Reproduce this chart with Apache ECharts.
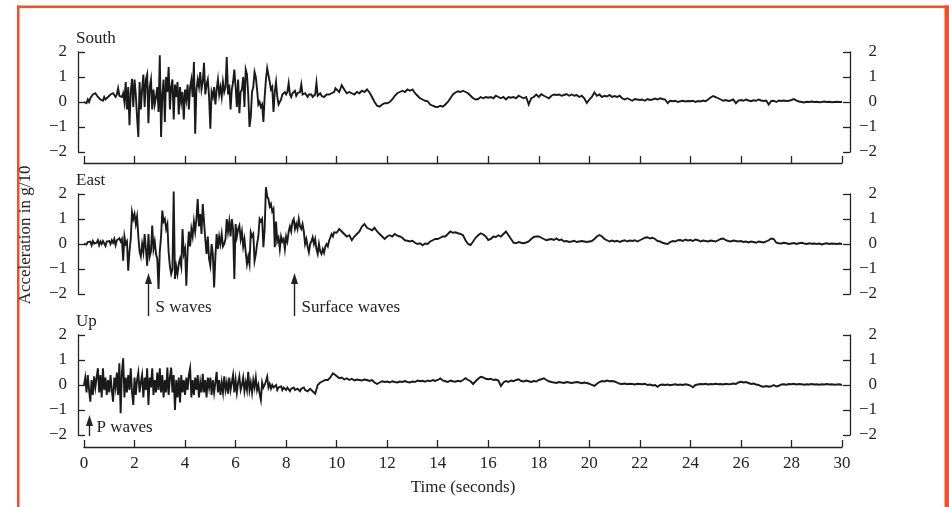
<!DOCTYPE html>
<html><head><meta charset="utf-8">
<script src="https://cdn.jsdelivr.net/npm/echarts@6/dist/echarts.min.js"></script>
<style>html,body{margin:0;padding:0;background:#fff}#c{width:949px;height:507px}</style>
</head><body><div id="c"></div>
<script>
// ---------- data ----------
const panelNames = ['South', 'East', 'Up'];
const yTickValues = [-2, -1, 0, 1, 2];
const xTickLabels = [0,2,4,6,8,10,12,14,16,18,20,22,24,26,28,30];
// sampling: 0–10 s every 0.05 s (200 samples), 10–30 s every 0.1 s (201 samples)
const earlyStep = 0.05, earlyCount = 200, lateStart = 10, lateStep = 0.1, lateCount = 201;

const southEarly = [
 0.0, 0.05, -0.05, 0.1, 0.0, 0.15, 0.1, 0.3, 0.25, 0.35,
 0.3, 0.2, 0.25, 0.1, 0.15, 0.05, 0.2, 0.1, 0.15, 0.2,
 0.25, 0.3, 0.25, 0.35, 0.3, 0.2, 0.3, 0.55, 0.25, 0.3,
 0.2, 0.35, 0.0, 0.8, -0.3, 0.6, -0.93, 0.4, 0.93, -0.2,
 0.9, 0.3, -0.6, -1.4, 0.8, -0.3, 0.5, 1.1, -0.2, 0.9,
 1.1, -0.85, 0.6, 0.9, -0.3, 0.5, -0.1, 0.2, 0.6, -0.4,
 1.87, -1.4, 0.3, 0.9, -0.8, 1.0, 0.4, 1.4, -0.3, 0.6,
 0.9, -0.7, 0.7, 0.2, 0.8, -0.5, 0.6, 0.0, 0.4, -0.7,
 0.5, 0.1, 0.7, -0.3, 0.6, 0.9, 0.2, 1.6, -1.27, 0.5,
 0.9, 0.6, 1.2, 0.5, 0.8, 1.57, 0.3, 0.7, 0.9, 0.2,
 -1.07, 0.4, 0.2, 0.6, -0.1, 0.5, 0.9, 0.3, 0.6, 0.2,
 0.8, 0.4, 0.6, 1.8, 0.3, 0.7, -0.3, 0.5, 0.8, 1.3,
 0.6, -0.2, 0.9, -0.45, 0.4, 0.5, 1.0, -0.2, 1.3, 1.1,
 0.3, -1.0, -0.6, 0.4, 0.6, 1.2, 1.0, 0.5, -0.1, 0.0,
 -0.2, -0.1, -0.8, 0.2, 0.9, 1.35, 1.3, 0.8, 0.5, 0.6,
 -0.4, 0.4, 0.8, 0.2, -0.1, -0.05, 0.1, 0.3, 0.25, 0.4,
 0.3, 0.4, 0.75, 0.3, 0.2, 0.35, 0.3, 0.45, 0.25, 0.35,
 0.3, 0.4, 0.7, 0.3, 0.25, 0.35, 0.3, 0.2, 0.3, 0.25,
 0.3, 0.2, 0.25, 0.3, 0.77, 0.25, 0.3, 0.35, 0.25, 0.3,
 0.2, 0.25, 0.3, 0.25, 0.3, 0.25, 0.35, 0.3, 0.4, 0.55
];
const southLate = [
 0.5, 0.4, 0.67, 0.5, 0.35, 0.4, 0.35, 0.3, 0.4, 0.35,
 0.45, 0.4, 0.5, 0.38, 0.2, 0.0, -0.15, -0.19, -0.1, -0.05,
 -0.05, 0.0, 0.1, 0.25, 0.35, 0.4, 0.45, 0.4, 0.5, 0.45,
 0.5, 0.35, 0.25, 0.15, 0.1, 0.05, 0.03, -0.1, -0.15, -0.19,
 -0.2, -0.15, -0.19, -0.1, 0.0, 0.15, 0.3, 0.38, 0.43, 0.4,
 0.45, 0.4, 0.35, 0.25, 0.15, 0.1, 0.12, 0.2, 0.15, 0.2,
 0.17, 0.2, 0.15, 0.25, 0.2, 0.15, 0.2, 0.1, 0.2, 0.17,
 0.2, 0.15, 0.25, 0.2, 0.15, 0.2, -0.1, 0.15, 0.2, 0.3,
 0.2, 0.31, 0.25, 0.2, 0.15, 0.25, 0.3, 0.28, 0.3, 0.25,
 0.28, 0.32, 0.25, 0.3, 0.25, 0.28, 0.2, 0.25, 0.15, -0.04,
 0.1, 0.2, 0.38, 0.25, 0.3, 0.2, 0.25, 0.22, 0.28, 0.2,
 0.24, 0.2, 0.25, 0.15, 0.1, 0.15, 0.1, 0.05, 0.12, 0.1,
 0.08, 0.1, 0.05, 0.12, 0.08, 0.1, 0.14, 0.1, 0.15, 0.12,
 0.1, -0.04, 0.05, 0.03, 0.05, 0.0, 0.03, 0.05, 0.02, 0.04,
 0.03, 0.05, 0.0, 0.04, 0.02, 0.06, 0.03, 0.1, 0.18, 0.24,
 0.2, 0.15, 0.1, 0.05, 0.08, 0.04, 0.06, 0.1, -0.05, 0.06,
 0.08, 0.05, 0.1, 0.06, 0.03, 0.07, 0.05, 0.1, 0.06, 0.04,
 0.06, -0.1, 0.04, 0.05, 0.0, 0.06, 0.04, 0.06, 0.04, 0.05,
 0.08, 0.12, 0.05, 0.02, 0.0, -0.02, 0.01, 0.0, 0.02, 0.0,
 0.01, -0.01, 0.0, 0.02, 0.0, 0.01, -0.01, 0.0, 0.01, 0.0,
 0.0
];

const eastEarly = [
 0.0, 0.05, -0.02, 0.08, 0.0, 0.1, -0.05, 0.12, 0.02, 0.08,
 0.05, 0.15, -0.05, 0.1, 0.0, 0.12, 0.05, -0.08, 0.1, 0.05,
 0.12, 0.0, 0.15, 0.05, 0.2, -0.05, 0.15, 0.1, 0.23, 0.1,
 0.2, -0.67, 0.3, 0.0, 0.1, -1.07, -0.3, 0.2, 1.27, 1.0,
 1.2, 0.8, 1.1, 0.3, -0.3, -0.5, 0.0, -0.33, 0.4, -0.2,
 -0.87, 0.4, -0.5, -0.3, 0.74, -0.2, 0.1, -0.4, -0.6, -1.8,
 -0.3, 0.3, 1.34, 0.9, 1.0, 0.6, 0.8, -0.33, -0.9, -1.2,
 -1.0, 2.1, -1.4, -0.9, -1.2, -0.8, -0.6, -0.9, 0.6, -0.4,
 -0.2, -1.67, -0.3, 0.5, -0.1, 0.6, 0.3, 0.9, 0.5, 1.0,
 1.8, 0.7, 1.2, 0.4, 1.6, 0.9, 0.2, -0.4, 0.3, -0.6,
 -0.87, 0.0, -0.4, -1.74, -0.5, 0.4, -0.2, 0.3, 0.0, 0.4,
 -0.1, 0.0, 0.2, 1.0, 0.5, 0.9, 0.3, 1.0, 0.6, -1.4,
 0.8, 0.3, 0.6, 0.74, 0.2, 0.5, -0.1, 0.2, -0.33, -0.8,
 -0.5, -0.8, 0.47, 0.3, 0.4, -0.67, -0.4, 0.0, 0.3, 1.0,
 0.9, 1.0, -0.13, 0.6, 2.27, 1.9, 1.8, 1.5, 1.6, 1.3,
 1.4, -0.13, 0.9, 0.1, 0.25, -0.2, 0.3, 0.1, 0.2, -0.2,
 0.3, 0.1, 0.5, 0.7, 0.5, 0.9, 1.0, 0.6, 0.8, 0.6,
 1.0, 0.7, 0.6, 0.8, 0.5, 0.0, 0.2, -0.1, -0.33, 0.0,
 0.1, 0.27, 0.0, 0.2, -0.2, -0.4, 0.0, -0.3, -0.4, -0.2,
 -0.35, -0.1, 0.0, -0.1, 0.13, 0.2, 0.4, 0.3, 0.47, 0.5
];
const eastLate = [
 0.45, 0.6, 0.5, 0.4, 0.3, 0.35, 0.15, 0.3, 0.4, 0.5,
 0.7, 0.8, 0.65, 0.6, 0.55, 0.65, 0.5, 0.4, 0.3, 0.2,
 0.3, 0.35, 0.3, 0.4, 0.33, 0.3, 0.25, 0.15, 0.13, 0.1,
 0.13, 0.05, 0.0, 0.03, -0.05, 0.02, 0.0, 0.1, 0.15, 0.2,
 0.2, 0.25, 0.3, 0.3, 0.4, 0.5, 0.45, 0.47, 0.43, 0.4,
 0.35, 0.15, 0.0, -0.04, 0.1, 0.25, 0.35, 0.43, 0.38, 0.3,
 0.16, 0.2, 0.3, 0.28, 0.35, 0.3, 0.4, 0.5, 0.35, 0.2,
 0.05, 0.03, 0.08, 0.05, 0.03, 0.06, 0.1, 0.2, 0.28, 0.3,
 0.3, 0.25, 0.2, 0.15, 0.18, 0.2, 0.16, 0.22, 0.15, 0.18,
 0.1, 0.12, 0.08, 0.1, 0.13, 0.08, 0.1, 0.12, 0.1, 0.08,
 0.1, 0.12, 0.2, 0.3, 0.36, 0.3, 0.2, 0.15, 0.1, 0.14,
 0.1, 0.13, 0.08, 0.12, 0.15, 0.1, 0.14, 0.12, 0.15, 0.1,
 0.15, 0.2, 0.25, 0.27, 0.22, 0.25, 0.2, 0.12, 0.1, 0.05,
 0.02, 0.0, 0.08, 0.12, 0.1, 0.15, 0.16, 0.12, 0.18, 0.14,
 0.16, 0.12, 0.18, 0.15, 0.1, 0.14, 0.12, 0.1, 0.14, 0.12,
 0.1, 0.15, 0.2, 0.22, 0.15, 0.12, 0.1, 0.14, 0.12, 0.1,
 0.12, 0.08, 0.1, 0.06, 0.1, 0.08, 0.05, 0.1, 0.08, 0.06,
 0.1, 0.15, 0.22, 0.2, 0.05, 0.03, 0.02, 0.05, 0.03, 0.0,
 0.02, 0.04, 0.0, 0.03, 0.05, 0.02, 0.0, 0.03, 0.01, 0.02,
 0.0, 0.02, -0.02, 0.01, 0.03, 0.0, 0.02, 0.01, 0.0, 0.02,
 0.0
];

const upEarly = [
 0.0, 0.3, -0.3, 0.4, -0.2, -0.67, 0.2, -0.4, 0.35, -0.1,
 0.3, 0.67, -0.3, 0.4, -0.5, 0.67, -0.2, 0.3, -0.4, 0.2,
 -0.3, 0.4, -0.2, -0.67, 0.3, -0.1, 0.5, -0.4, 0.87, -1.13,
 0.5, 1.07, -0.5, 0.3, -0.3, 0.4, -0.2, 0.67, -0.3, -0.8,
 0.3, -0.4, 0.2, 0.5, -0.3, 0.1, 0.4, -0.5, 0.3, -0.2,
 0.67, -0.8, 0.3, -0.1, 0.67, -0.4, 0.2, -0.3, 0.5, -0.2,
 0.67, -0.3, 0.4, -0.5, 0.2, -0.3, 0.7, -0.4, 0.3, 0.7,
 -0.3, 0.4, -1.0, 0.2, -0.5, 0.3, -0.7, 0.4, -0.3, 0.2,
 -0.4, 0.3, -0.2, 0.4, 0.67, -0.5, 0.2, -0.4, 0.3, -0.2,
 0.4, -0.5, 0.1, -0.3, 0.45, -0.3, 0.2, -0.5, 0.3, -0.1,
 0.3, -0.4, 0.2, -0.3, 0.1, 0.53, -0.3, 0.2, -0.4, 0.1,
 -0.3, 0.35, -0.2, 0.1, -0.35, 0.3, -0.2, 0.1, 0.4, -0.3,
 0.2, -0.3, 0.1, 0.35, -0.2, 0.0, 0.3, -0.25, 0.1, -0.2,
 0.53, -0.2, 0.1, -0.3, 0.2, -0.1, 0.3, -0.2, 0.0, -0.35,
 -0.6, 0.1, -0.1, 0.0, 0.15, 0.33, -0.1, 0.05, -0.15, 0.0,
 -0.1, -0.15, 0.0, -0.2, -0.1, -0.15, -0.05, -0.2, -0.1, -0.15,
 -0.2, -0.1, -0.15, -0.25, -0.15, -0.2, -0.1, -0.2, -0.25, -0.15,
 -0.2, -0.25, -0.15, -0.2, -0.1, -0.2, -0.15, -0.25, -0.2, -0.15,
 -0.2, -0.25, -0.3, -0.35, -0.4, 0.0, -0.05, 0.1, 0.05, 0.15,
 0.1, 0.2, 0.15, 0.2, 0.25, 0.3, 0.35, 0.47, 0.5, 0.4
];
const upLate = [
 0.35, 0.27, 0.3, 0.22, 0.27, 0.2, 0.25, 0.18, 0.22, 0.2,
 0.18, 0.22, 0.2, 0.16, 0.2, 0.1, 0.04, 0.1, 0.15, 0.12,
 0.14, 0.1, 0.15, 0.12, 0.1, 0.14, 0.12, 0.16, 0.12, 0.1,
 0.14, 0.12, 0.18, 0.15, 0.17, 0.13, 0.18, 0.15, 0.2, 0.16,
 0.2, 0.26, 0.18, 0.15, 0.12, 0.18, 0.15, 0.13, 0.17, 0.14,
 0.2, 0.27, 0.2, 0.15, 0.04, 0.15, 0.25, 0.33, 0.3, 0.25,
 0.23, 0.25, 0.2, 0.22, 0.18, -0.04, 0.1, 0.16, 0.12, 0.18,
 0.15, 0.2, 0.23, 0.16, 0.14, 0.18, 0.15, 0.12, 0.16, 0.14,
 0.2, 0.23, 0.27, 0.2, 0.15, 0.12, 0.1, 0.08, 0.12, 0.1,
 0.08, 0.12, 0.1, 0.08, 0.1, 0.12, 0.1, 0.07, 0.1, 0.08,
 0.05, 0.0, -0.04, 0.05, 0.12, 0.16, 0.14, 0.18, 0.15, 0.16,
 0.14, 0.1, 0.05, 0.04, 0.06, 0.03, 0.05, 0.04, 0.02, 0.05,
 0.04, 0.03, 0.05, 0.0, 0.02, -0.02, 0.0, -0.07, 0.0, 0.02,
 0.0, 0.02, -0.01, 0.01, 0.03, 0.0, 0.02, 0.0, 0.03, 0.01,
 -0.02, -0.09, 0.0, 0.02, 0.04, 0.03, 0.05, 0.02, 0.04, 0.03,
 0.05, 0.03, 0.04, 0.02, 0.05, 0.03, 0.04, 0.06, 0.04, 0.1,
 0.13, 0.1, 0.12, 0.08, 0.04, 0.06, 0.02, 0.0, -0.05, -0.07,
 -0.04, -0.07, -0.05, 0.0, -0.06, -0.03, 0.02, 0.03, 0.01, 0.04,
 0.03, 0.05, 0.02, 0.04, 0.03, 0.01, 0.03, 0.02, 0.04, 0.02,
 0.03, 0.01, 0.03, 0.02, 0.04, 0.02, 0.03, 0.01, 0.02, 0.03,
 0.0
];

// annotations: [panel index, arrow time (s), arrow tip value, arrow tail value, label]
const annotations = [
  [1, 2.53, -1.16, -2.88, 'S waves'],
  [1, 8.31, -1.16, -2.88, 'Surface waves'],
  [2, 0.2, -1.2, -2.04, 'P waves']
];

// ---------- build ----------
const times = [];
for (let i = 0; i < earlyCount; i++) times.push(+(i * earlyStep).toFixed(2));
for (let i = 0; i < lateCount; i++) times.push(+(lateStart + i * lateStep).toFixed(2));
const seriesValues = [southEarly.concat(southLate), eastEarly.concat(eastLate), upEarly.concat(upLate)];

const ink = '#222';
const serif = '"Liberation Serif", "DejaVu Serif", serif';
const minus = v => (v < 0 ? '\u2212' + (-v) : String(v));

const gridTops = [52, 194, 335];
const grids = gridTops.map(t => ({ left: 84, right: 107, top: t, height: 100 }));

const xAxes = grids.map((g, i) => ({
  gridIndex: i, type: 'value', min: 0, max: 30, interval: 2,
  show: i !== 1, position: 'bottom', offset: i === 0 ? 11 : 12,
  axisLine: { show: true, onZero: false, lineStyle: { color: ink, width: 1.3 } },
  axisTick: { show: true, inside: true, length: 7, lineStyle: { color: ink, width: 1.3 } },
  axisLabel: { show: i === 2, margin: 8, fontFamily: serif, fontSize: 17, color: ink,
    formatter: v => (xTickLabels.indexOf(v) >= 0 ? String(v) : '') },
  splitLine: { show: false },
  name: i === 2 ? 'Time (seconds)' : '', nameLocation: 'middle', nameGap: 32,
  nameTextStyle: { fontFamily: serif, fontSize: 17, color: ink }
}));

const yAxes = [];
grids.forEach((g, i) => {
  const common = {
    gridIndex: i, type: 'value', min: yTickValues[0], max: yTickValues[yTickValues.length - 1], interval: 1,
    axisLine: { show: true, onZero: false, lineStyle: { color: ink, width: 1.3 } },
    axisTick: { show: true, inside: true, length: 7, lineStyle: { color: ink, width: 1.3 } },
    splitLine: { show: false }
  };
  yAxes.push(Object.assign({}, common, { position: 'left', offset: 6,
    axisLabel: { margin: 11, fontFamily: serif, fontSize: 17, color: ink, formatter: minus } }));
  yAxes.push(Object.assign({}, common, { position: 'right', offset: 8,
    axisLabel: { margin: 27, align: 'right', fontFamily: serif, fontSize: 17, color: ink, formatter: minus } }));
});

const series = seriesValues.map((vals, i) => ({
  type: 'line', xAxisIndex: i, yAxisIndex: 2 * i, clip: false,
  showSymbol: false, symbol: 'none', sampling: null,
  lineStyle: { color: '#1a1a1a', width: 1.9, join: 'miter' },
  data: times.map((t, k) => [t, vals[k]])
}));

const chart = echarts.init(document.getElementById('c'), null, { renderer: 'canvas' });
chart.setOption({
  animation: false, backgroundColor: '#fff',
  grid: grids, xAxis: xAxes, yAxis: yAxes, series: series
});

// ---------- annotations / labels (positioned via the axes) ----------
const border = '#ff4b1f';
const gfx = [
  { type: 'rect', shape: { x: 17, y: 5.5, width: 932, height: 2.5 }, style: { fill: border }, silent: true },
  { type: 'rect', shape: { x: 17, y: 5.5, width: 2.5, height: 502 }, style: { fill: border }, silent: true },
  { type: 'rect', shape: { x: 944.5, y: 5.5, width: 4.5, height: 502 }, style: { fill: border }, silent: true },
  { type: 'text', x: 26, y: 235, rotation: Math.PI / 2,
    style: { text: 'Acceleration in g/10', fontFamily: serif, fontSize: 17, fill: ink, align: 'center', verticalAlign: 'middle' } }
];
panelNames.forEach((name, i) => {
  const p = chart.convertToPixel({ gridIndex: i }, [0, yTickValues[yTickValues.length - 1]]);
  gfx.push({ type: 'text', x: p[0] - 8, y: p[1] - 13,
    style: { text: name, fontFamily: serif, fontSize: 17, fill: ink, align: 'left', verticalAlign: 'middle' } });
});
annotations.forEach(([gi, t, tip, tail, label]) => {
  const a = chart.convertToPixel({ gridIndex: gi }, [t, tip]);
  const b = chart.convertToPixel({ gridIndex: gi }, [t, tail]);
  const x = Math.round(a[0]) + 0.5;
  gfx.push({ type: 'line', shape: { x1: x, y1: a[1] + 8, x2: x, y2: b[1] }, style: { stroke: ink, lineWidth: 1.4 } });
  gfx.push({ type: 'polygon', shape: { points: [[x, a[1]], [x - 3.5, a[1] + 11], [x + 3.5, a[1] + 11]] }, style: { fill: ink } });
  gfx.push({ type: 'text', x: x + 7, y: b[1] - 8,
    style: { text: label, fontFamily: serif, fontSize: 17, fill: ink, align: 'left', verticalAlign: 'middle' } });
});
chart.setOption({ graphic: gfx });
</script>
</body></html>
